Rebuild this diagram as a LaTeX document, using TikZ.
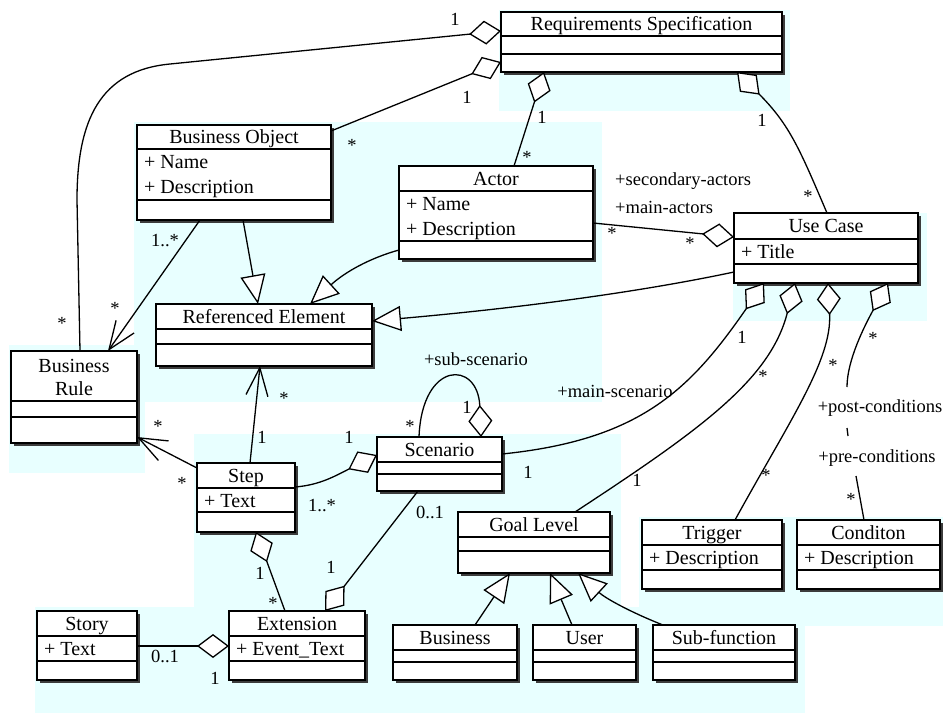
\documentclass[tikz,border=0pt]{standalone}
\usepackage{fontspec}
\setmainfont{Liberation Serif}
\usetikzlibrary{arrows.meta}
\definecolor{bgc}{RGB}{232,255,255}
\definecolor{shc}{RGB}{60,60,60}
\newcommand\clsfont{\fontsize{20}{22}\selectfont}
\newcommand\labfont{\fontsize{18.5}{20}\selectfont}
\newcommand\umlframe[7]{%
  \fill[shc] ({#2+3},{#3+3}) rectangle ({#4+3},{#5+3});
  \node[clsbox, minimum width={(#4-#2)*1pt}, minimum height={(#5-#3)*1pt}, anchor=north west] (#1) at (#2,#3) {};
  \draw[clsline] (#2,#6) -- (#4,#6) (#2,#7) -- (#4,#7);
}
\newcommand\umlbox[8]{%
  \umlframe{#1}{#2}{#3}{#4}{#5}{#6}{#7}%
  \node[clstitle] (#1-t) at ({(#2+#4)/2},{(#3+#6)/2+6.5}) {#8};
}
\begin{document}
\begin{tikzpicture}[x=1pt,y=-1pt,
  clsbox/.style={draw, line width=1.6pt, fill=white, inner sep=0pt, outer sep=0pt},
  clsline/.style={line width=1.6pt},
  clstitle/.style={font=\clsfont, inner sep=0pt, anchor=base},
  attr/.style={font=\clsfont, inner sep=0pt, anchor=base west},
  lab/.style={font=\labfont, inner sep=0pt, anchor=base},
  labw/.style={font=\labfont, inner sep=0pt, anchor=base west},
  conn/.style={line width=1.3pt},
  agg/.style={conn, -{Diamond[fill=white,length=32pt,width=24pt]}},
  gen/.style={conn, -{Triangle[fill=white,length=29pt,width=25pt]}},
  nav/.style={conn, -{Straight Barb[length=28pt,width=22pt]}},
]
\useasboundingbox (0,0) rectangle (943,713);
\fill[white] (0,0) rectangle (943,713);
% background regions
\fill[bgc] (499,10) rectangle (790,111);
\fill[bgc] (134,122) rectangle (602,402);
\fill[bgc] (9,345) rectangle (145,473);
\fill[bgc] (194,434) rectangle (621,607);
\fill[bgc] (639,517) rectangle (943,626);
\fill[bgc] (35,607) rectangle (805,713);
\fill[bgc] (733,213) rectangle (927,321);

% classes
\umlbox{rs}{501}{12}{782}{72}{36}{54}{Requirements Specification}
\umlbox{bo}{137}{125}{331}{220}{149}{200}{Business Object}
\node[attr] (bo-a1) at (144,168.5) {+ Name};
\node[attr] (bo-a2) at (144,193.5) {+ Description};
\umlbox{actor}{399}{166}{593}{259}{191}{241}{Actor}
\node[attr] (actor-a1) at (406,210.5) {+ Name};
\node[attr] (actor-a2) at (406,235.5) {+ Description};
\umlbox{uc}{734}{213}{918}{283}{239}{264}{Use Case}
\node[attr] (uc-a1) at (741,258.5) {+ Title};
\umlbox{re}{156}{304}{372}{366}{329}{344}{Referenced Element}
\umlframe{br}{11}{351}{137}{443}{401}{417}
\node[clstitle] (br-t1) at (74,372) {Business};
\node[clstitle] (br-t2) at (74,395) {Rule};
\umlbox{scen}{377}{437}{502}{491}{462}{474}{Scenario}
\umlbox{step}{197}{463}{295}{532}{488}{512}{Step}
\node[attr] (step-a1) at (204,507.5) {+ Text};
\umlbox{gl}{458}{512}{610}{573}{537}{551}{Goal Level}
\umlbox{trig}{642}{520}{782}{589}{545}{570}{Trigger}
\node[attr] (trig-a1) at (649,564.5) {+ Description};
\umlbox{cond}{797}{520}{940}{589}{545}{570}{Conditon}
\node[attr] (cond-a1) at (804,564.5) {+ Description};
\umlbox{bus}{393}{625}{517}{680}{650}{662}{Business}
\umlbox{user}{533}{625}{636}{680}{650}{662}{User}
\umlbox{subf}{653}{625}{795}{680}{650}{662}{Sub-function}
\umlbox{story}{37}{611}{137}{680}{636}{661}{Story}
\node[attr] (story-a1) at (44,655.5) {+ Text};
\umlbox{ext}{229}{611}{365}{680}{636}{661}{Extension}
\node[attr] (ext-a1) at (236,655.5) {+ Event\_Text};

% connectors
\draw[agg] ([xshift=69pt]br.north west) -- (77,200) .. controls (77,120) and (100,70.6) .. (170,64) -- ([yshift=-19pt]rs.north west);
\draw[agg] ([yshift=-6pt]bo.north east) -- ([yshift=-50pt]rs.north west);
\draw[agg] ([xshift=115pt]actor.north west) -- ([xshift=43pt]rs.south west);
\draw[agg] ([xshift=93pt]uc.north west) .. controls (800,150) and (790,125) .. ([xshift=236pt]rs.south west);
\draw[agg] ([yshift=-57pt]actor.north east) -- ([yshift=-24pt]uc.north west);
\draw[nav] ([xshift=63pt]bo.south west) -- ([xshift=97pt]br.north west);
\draw[gen] ([xshift=106pt]bo.south west) -- ([xshift=102pt]re.north west);
\draw[gen] ([yshift=-84pt]actor.north west) .. controls (370,258) and (345,272) .. ([xshift=154pt]re.north west);
\draw[gen] ([yshift=-59pt]uc.north west) .. controls (640,292) and (520,308) .. ([yshift=-17pt]re.north east);
\draw[nav] ([xshift=53pt]step.north west) -- ([xshift=104pt]re.south west);
\draw[nav] ([yshift=-5pt]step.north west) -- ([yshift=-86pt]br.north east);
\draw[agg] ([yshift=-24pt]step.north east) .. controls (320,485) and (335,476) .. ([yshift=-18pt]scen.north west);
\draw[agg] ([xshift=42pt]scen.north west) .. controls (422,360) and (478,360) .. ([xshift=104pt]scen.north west);
\draw[agg] ([yshift=-17pt]scen.north east) .. controls (640,440) and (690,390) .. ([xshift=30pt]uc.south west);
\draw[agg] ([xshift=117pt]gl.north west) .. controls (700,430) and (770,380) .. ([xshift=61pt]uc.south west);
\draw[agg] ([xshift=93pt]trig.north west) .. controls (790,420) and (832,360) .. ([xshift=94pt]uc.south west);
\draw[agg] ([xshift=67pt]cond.north west) -- (856,476) (848,436) -- (847,428) (847,387) .. controls (847,360) and (865,325) .. ([xshift=154pt]uc.south west);
\draw[agg] ([xshift=41pt]scen.south west) -- ([xshift=96pt]ext.north west);
\draw[agg] ([xshift=56pt]ext.north west) -- ([xshift=59pt]step.south west);
\draw[agg] ([yshift=-35pt]story.north east) -- ([yshift=-35pt]ext.north west);
\draw[gen] ([xshift=82pt]bus.north west) -- ([xshift=52pt]gl.south west);
\draw[gen] ([xshift=39pt]user.north west) -- ([xshift=92pt]gl.south west);
\draw[gen] ([xshift=10pt]subf.north west) .. controls (630,612) and (605,598) .. ([xshift=120pt]gl.south west);

% labels
\node[lab] (l1) at (455,25) {1};
\node[lab] (l2) at (467,103) {1};
\node[lab] (l3) at (352,151) {*};
\node[lab] (l4) at (542,123) {1};
\node[lab] (l5) at (527,163) {*};
\node[lab] (l6) at (762,126) {1};
\node[lab] (l7) at (808,202) {*};
\node[labw] (l8) at (615,185) {+secondary-actors};
\node[labw] (l9) at (615,213) {+main-actors};
\node[lab] (l10) at (612,239) {*};
\node[lab] (l11) at (690,249) {*};
\node[lab] (l12) at (165,246) {1..*};
\node[lab] (l13) at (115,314) {*};
\node[lab] (l14) at (62,329) {*};
\node[lab] (l15) at (284,404) {*};
\node[lab] (l16) at (262,443) {1};
\node[lab] (l17) at (158,432) {*};
\node[lab] (l18) at (182,489) {*};
\node[lab] (l19) at (349,443) {1};
\node[lab] (l20) at (322,511) {1..*};
\node[lab] (l21) at (476,365) {+sub-scenario};
\node[lab] (l22) at (410,432) {*};
\node[lab] (l23) at (467,413) {1};
\node[lab] (l24) at (615,397) {+main-scenario};
\node[lab] (l25) at (742,343) {1};
\node[lab] (l26) at (528,478) {1};
\node[lab] (l27) at (763,382) {*};
\node[lab] (l28) at (637,486) {1};
\node[lab] (l29) at (833,371) {*};
\node[lab] (l30) at (766,481) {*};
\node[lab] (l31) at (873,344) {*};
\node[lab] (l32) at (880,412) {+post-conditions};
\node[lab] (l33) at (877,462) {+pre-conditions};
\node[lab] (l34) at (851,505) {*};
\node[lab] (l35) at (430,518) {0..1};
\node[lab] (l36) at (331,573) {1};
\node[lab] (l37) at (260,579) {1};
\node[lab] (l38) at (273,609) {*};
\node[lab] (l39) at (165,662) {0..1};
\node[lab] (l40) at (215,684) {1};
\end{tikzpicture}
\end{document}
